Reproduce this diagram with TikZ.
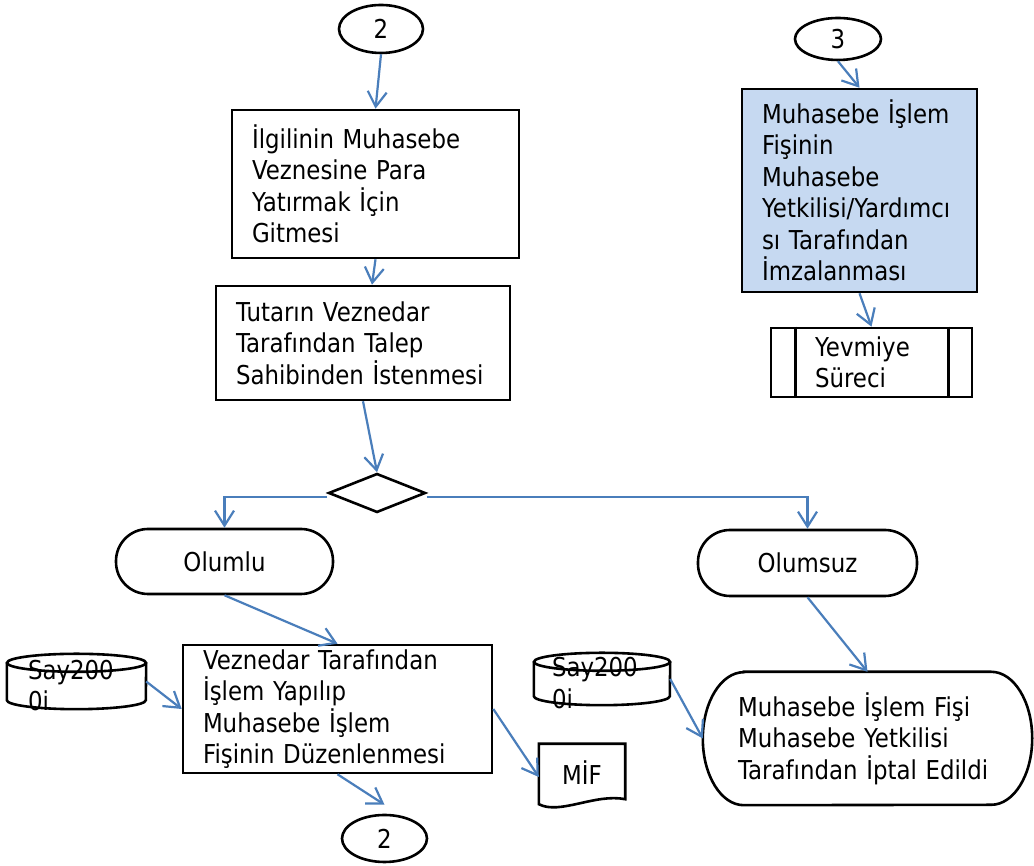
\documentclass[tikz,border=0pt]{standalone}
\usepackage{fontspec}
\setmainfont[FakeStretch=0.88]{DejaVu Sans}
\usetikzlibrary{shapes.geometric,arrows.meta}
\definecolor{flowblue}{HTML}{4A7EBB}
\definecolor{boxblue}{HTML}{C6D9F1}

\begin{document}
\begin{tikzpicture}[
  x=1pt,y=1pt,
  >={Straight Barb[length=15pt,width=19pt]},
  font=\fontsize{26}{31.5}\selectfont,
  flow/.style={draw=flowblue,line width=2.2pt,->},
  outline/.style={draw=black,line width=2.6pt},
  box/.style={rectangle,outline,align=left,inner xsep=20pt,inner ysep=0pt},
  term/.style={rectangle,outline,rounded corners=32pt,inner sep=0pt},
  conn/.style={ellipse,outline,inner sep=0pt},
  plain/.style={rectangle,inner sep=0pt},
  disktext/.style={plain,align=left,anchor=west}
]

\def\disk#1/#2;{
  \draw[outline] ([yshift=-9pt]#1.north west) -- ([yshift=9pt]#1.south west)
    arc[start angle=180,end angle=360,x radius=#2,y radius=9pt] -- ([yshift=-9pt]#1.north east);
  \draw[outline] ([yshift=-9pt]#1.north) ellipse[x radius=#2,y radius=9pt];
}

\fill[white] (0,0) rectangle (1034,866);
\useasboundingbox (0,0) rectangle (1034,866);

% left column
\node[conn,minimum width=84pt,minimum height=48pt] (bag2a) at (381,837) {2};
\node[box,text width=247pt,minimum height=148pt] (gitme) at (375.5,682)
  {İlgilinin Muhasebe\\Veznesine Para\\Yatırmak İçin\\Gitmesi};
\node[box,text width=254pt,minimum height=114pt] (talep) at (363,523)
  {Tutarın Veznedar\\Tarafından Talep\\Sahibinden İstenmesi};
\node[diamond,outline,inner sep=0pt,minimum width=97pt,minimum height=39pt] (karar) at (377,373) {};
\node[term,minimum width=217pt,minimum height=65pt] (olumlu) at (224.5,304.5) {Olumlu};
\node[term,minimum width=219pt,minimum height=66pt] (olumsuz) at (807.5,303) {Olumsuz};
\node[box,text width=269pt,minimum height=128pt] (duzen) at (337.5,157)
  {Veznedar Tarafından\\İşlem Yapılıp\\Muhasebe İşlem\\Fişinin Düzenlenmesi};
\node[conn,minimum width=85pt,minimum height=47pt] (bag2b) at (384.5,27.5) {2};

% data stores
\node[plain,minimum width=139pt,minimum height=55pt] (say1) at (76.5,184.5) {};
\disk say1/69.5pt;
\node[disktext] (say1t) at ([xshift=21pt,yshift=-4pt]say1.west) {Say200\\0i};
\node[plain,minimum width=136pt,minimum height=52pt] (say2) at (602,187) {};
\disk say2/68pt;
\node[disktext] (say2t) at ([xshift=18pt,yshift=-4pt]say2.west) {Say200\\0i};

% document
\node[plain,minimum width=86pt,minimum height=58pt] (mif) at (582,93) {MİF};
\draw[outline] (mif.north west) -- (mif.north east) -- ([yshift=3pt]mif.south east)
  .. controls +(-30pt,6pt) and +(21pt,-11pt) .. ([yshift=-2pt]mif.south west) -- cycle;

% cancelled
\node[plain,inner xsep=35pt,text width=259pt,minimum height=133pt,align=left] (iptal) at (867.5,127.5)
  {Muhasebe İşlem Fişi\\Muhasebe Yetkilisi\\Tarafından İptal Edildi};
\draw[outline] ([xshift=41pt]iptal.north west) -- ([xshift=-41pt]iptal.north east)
  arc[start angle=90,end angle=-90,x radius=41pt,y radius=66.5pt] -- ([xshift=41pt]iptal.south west)
  arc[start angle=270,end angle=90,x radius=41pt,y radius=66.5pt] -- cycle;

% right column
\node[conn,minimum width=86pt,minimum height=42pt] (bag3) at (838,827) {3};
\node[box,fill=boxblue,text width=195pt,minimum height=203pt] (imza) at (859.5,675.5)
  {Muhasebe İşlem\\Fişinin\\Muhasebe\\\mbox{Yetkilisi/Yardımcı}\\sı Tarafından\\İmzalanması};
\node[box,text width=113pt,inner xsep=44pt,minimum height=69pt] (yevmiye) at (871.5,503.5)
  {Yevmiye\\Süreci};
\draw[outline] ([xshift=26pt]yevmiye.north west) -- ([xshift=26pt]yevmiye.south west);
\draw[outline] ([xshift=-25pt]yevmiye.north east) -- ([xshift=-25pt]yevmiye.south east);

% connectors
\draw[flow] (bag2a.south) -- (gitme.north);
\draw[flow] (gitme.south) -- ([xshift=9pt]talep.north);
\draw[flow] (talep.south) -- (karar.north);
\draw[flow] ([yshift=-4pt]karar.west) -| (olumlu.north);
\draw[flow] ([yshift=-4pt]karar.east) -| (olumsuz.north);
\draw[flow] (olumlu.south) -- (duzen.north);
\draw[flow] (duzen.south) -- ([yshift=9pt]bag2b.north);
\draw[flow] (say1.east) -- (duzen.west);
\draw[flow] (duzen.east) -- ([yshift=-4pt]mif.west);
\draw[flow] (say2.east) -- (iptal.west);
\draw[flow] (olumsuz.south) -- (iptal.north);
\draw[flow] (bag3.south) -- (imza.north);
\draw[flow] (imza.south) -- (yevmiye.north);

\end{tikzpicture}
\end{document}
